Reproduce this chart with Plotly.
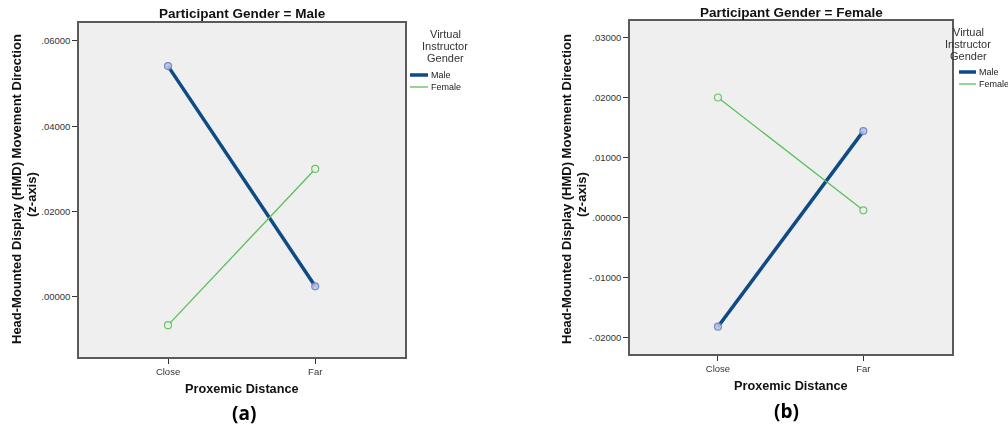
import plotly.graph_objects as go

# ---- data ----
distance = ["Close", "Far"]
instructor = ["Male", "Female"]
male_participant_male_instr = [0.0541, 0.0025]
male_participant_female_instr = [-0.0066, 0.0300]
female_participant_male_instr = [-0.0182, 0.0144]
female_participant_female_instr = [0.0200, 0.0012]

ticks_a = [0.0, 0.02, 0.04, 0.06]
ticklabels_a = [".00000", ".02000", ".04000", ".06000"]
ticks_b = [-0.02, -0.01, 0.0, 0.01, 0.02, 0.03]
ticklabels_b = ["-.02000", "-.01000", ".00000", ".01000", ".02000", ".03000"]

panel_titles = ["Participant Gender = Male", "Participant Gender = Female"]
panel_labels = ["(a)", "(b)"]
x_title = "Proxemic Distance"
y_title_lines = ["Head-Mounted Display (HMD) Movement Direction", "(z-axis)"]
legend_title_lines = ["Virtual", "Instructor", "Gender"]

# ---- style ----
W, H = 1008, 428
C_MALE = "#0e4a84"
C_FEMALE = "#5cbf5c"
BG = "#efefef"
FONT = "Liberation Sans, Arial, sans-serif"

def px_x(p):
    return p / W

def px_y(p):
    return 1 - p / H

fig = go.Figure()

panels = [
    dict(xa="x", ya="y", series=[male_participant_male_instr, male_participant_female_instr],
         dom_x=(79, 405), dom_y=(23, 357), yr=(-0.01406, 0.0642), ticks=ticks_a, tl=ticklabels_a),
    dict(xa="x2", ya="y2", series=[female_participant_male_instr, female_participant_female_instr],
         dom_x=(630, 952), dom_y=(21, 354), yr=(-0.02275, 0.03275), ticks=ticks_b, tl=ticklabels_b),
]

styles = [
    dict(color=C_MALE, width=3.5, mfill="#b9c3e3", mline="#6b7fc4"),
    dict(color=C_FEMALE, width=1.3, mfill=BG, mline=C_FEMALE),
]

for p in panels:
    for name, vals, st in zip(instructor, p["series"], styles):
        fig.add_trace(go.Scatter(
            x=distance, y=vals, xaxis=p["xa"], yaxis=p["ya"], mode="lines",
            line=dict(color=st["color"], width=st["width"]), name=name, showlegend=False,
            hoverinfo="skip"))
    for name, vals, st in zip(instructor, p["series"], styles):
        fig.add_trace(go.Scatter(
            x=distance, y=vals, xaxis=p["xa"], yaxis=p["ya"], mode="markers",
            marker=dict(symbol="circle", size=7, color=st["mfill"],
                        line=dict(color=st["mline"], width=1.2)),
            name=name, showlegend=False, opacity=0.9))

layout = dict(
    width=W, height=H, margin=dict(l=0, r=0, t=0, b=0),
    paper_bgcolor="white", plot_bgcolor=BG, font=dict(family=FONT, color="#222"),
    showlegend=False,
)

for i, p in enumerate(panels):
    sfx = "" if i == 0 else "2"
    layout["xaxis" + sfx] = dict(
        domain=[px_x(p["dom_x"][0]), px_x(p["dom_x"][1])], anchor="y" + sfx,
        type="category", categoryorder="array", categoryarray=distance,
        range=[-0.605, 1.61], showgrid=False, zeroline=False,
        showline=True, mirror=True, linecolor="#5a5a5a", linewidth=1.5,
        ticks="outside", ticklen=5, tickcolor="#333", tickwidth=1,
        tickfont=dict(size=9.5, color="#333", family=FONT))
    layout["yaxis" + sfx] = dict(
        domain=[px_y(p["dom_y"][1]), px_y(p["dom_y"][0])], anchor="x" + sfx,
        range=list(p["yr"]), showgrid=False, zeroline=False,
        showline=True, mirror=True, linecolor="#5a5a5a", linewidth=1.5,
        ticks="outside", ticklen=5, tickcolor="#333", tickwidth=1,
        tickvals=p["ticks"], ticktext=p["tl"],
        tickfont=dict(size=9.5, color="#333", family=FONT))

fig.update_layout(**layout)

annotations = []
shapes = []
cfg = [
    dict(cx=242, title_y=14, yt_x=(16, 31), yt_y=(189, 195), xty=389, lab_x=244, lab_y=413,
         lg_x=445, lg_y=(34, 46, 58), lg_line=(410, 428), lg_items=(75, 87)),
    dict(cx=791, title_y=12, yt_x=(566, 581), yt_y=(189, 195), xty=386, lab_x=786, lab_y=411,
         lg_x=968, lg_y=(32, 44, 56), lg_line=(959, 976), lg_items=(72, 84)),
]
for i, c in enumerate(cfg):
    annotations.append(dict(text="<b>%s</b>" % panel_titles[i], x=px_x(c["cx"]), y=px_y(c["title_y"]),
                            xref="paper", yref="paper", showarrow=False, xanchor="center", yanchor="middle",
                            font=dict(size=13.5, color="#111", family=FONT)))
    for line, xx, yy in zip(y_title_lines, c["yt_x"], c["yt_y"]):
        annotations.append(dict(text="<b>%s</b>" % line, x=px_x(xx), y=px_y(yy),
                                xref="paper", yref="paper", showarrow=False, textangle=-90,
                                xanchor="center", yanchor="middle",
                                font=dict(size=13, color="#111", family=FONT)))
    annotations.append(dict(text="<b>%s</b>" % x_title, x=px_x(c["cx"]), y=px_y(c["xty"]),
                            xref="paper", yref="paper", showarrow=False, xanchor="center", yanchor="middle",
                            font=dict(size=12.7, color="#111", family=FONT)))
    annotations.append(dict(text="<b>%s</b>" % panel_labels[i], x=px_x(c["lab_x"]), y=px_y(c["lab_y"]),
                            xref="paper", yref="paper", showarrow=False, xanchor="center", yanchor="middle",
                            font=dict(size=19, color="#000", family="Open Sans, sans-serif")))
    # legend
    for line, yy in zip(legend_title_lines, c["lg_y"]):
        annotations.append(dict(text=line, x=px_x(c["lg_x"]), y=px_y(yy),
                                xref="paper", yref="paper", showarrow=False, xanchor="center", yanchor="middle",
                                font=dict(size=11, color="#333", family=FONT)))
    for name, st, yy in zip(instructor, styles, c["lg_items"]):
        shapes.append(dict(type="line", xref="paper", yref="paper",
                           x0=px_x(c["lg_line"][0]), x1=px_x(c["lg_line"][1]),
                           y0=px_y(yy), y1=px_y(yy),
                           line=dict(color=st["color"], width=st["width"])))
        annotations.append(dict(text=name, x=px_x(c["lg_line"][1] + 1), y=px_y(yy),
                                xref="paper", yref="paper", showarrow=False, xanchor="left", yanchor="middle",
                                font=dict(size=9, color="#222", family=FONT)))

fig.update_layout(annotations=annotations, shapes=shapes)
fig.write_html("out.html", config={"displayModeBar": False},
               post_script="document.body.style.margin='0';document.body.style.padding='0';document.body.style.overflow='hidden';")
